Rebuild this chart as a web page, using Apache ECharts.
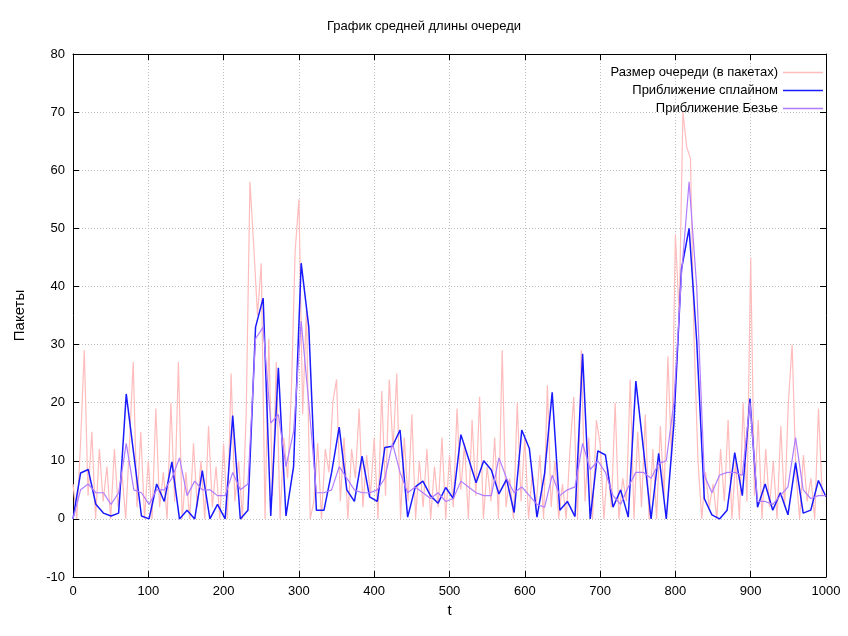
<!DOCTYPE html>
<html>
<head>
<meta charset="utf-8">
<script src="https://cdn.jsdelivr.net/npm/echarts@6/dist/echarts.min.js"></script>
<style>html,body{margin:0;padding:0;background:#fff}#main{width:848px;height:636px}</style>
</head>
<body>
<div id="main"></div>
<script>
// raw queue size, one value every 5 time units
var rawStep = 5;
var rawValues = [
  6,0,13,29,4,15,0,12,3,9,
  0,12,2,8,0,13,27,2,15,0,
  10,0,19,2,8,0,20,3,27,0,
  8,0,13,2,10,0,16,2,9,0,
  13,0,25,3,10,0,18,58,47,35,
  44,0,31,4,27,0,14,7,22,46,
  55,18,36,0,3,13,0,12,8,20,
  24,3,14,0,12,7,19,2,11,4,
  14,0,22,4,24,12,25,0,14,3,
  18,0,10,2,12,0,9,2,14,0,
  11,2,19,5,13,0,17,4,21,0,
  9,3,14,0,29,2,7,0,20,3,
  14,0,8,2,11,0,23,2,10,0,
  6,0,12,21,0,29,3,14,0,17,
  13,0,9,2,20,0,7,3,24,0,
  15,2,18,0,12,0,16,4,28,10,
  49,35,70,64,62,30,10,0,8,2,
  6,0,12,3,17,0,10,0,20,3,
  45,4,17,0,12,2,10,0,16,2,
  20,30,8,0,11,3,7,0,19,4
];

// approximations, 100 nodes evenly spread over 0..1000
var splineValues = [
  0,7.9,8.5,2.5,1,0.5,1,21.5,11,0.5,
  0,6,3,9.8,0,1.5,0,8.3,0,2.5,
  0,17.8,0,1.5,33,38,0.5,26,0.5,9,
  44,33,1.5,1.5,8,15.8,5,3,10.8,3.8,
  3,12.3,12.5,15.3,0.3,5.5,6.5,4,2.7,5.4,
  3.5,14.5,10.4,6.2,10,8.4,4.3,6.8,1.1,15.3,
  12.1,0.3,7.8,21.8,1.5,3,0.4,28.4,0,11.7,
  11,2,5,0.3,23.7,12,0,11.3,0,16.4,
  43,50,30.7,3.5,0.7,0,1.5,11.4,4,20.7,
  2,6,1.5,4.5,0.7,9.7,1,1.5,6.6,3.8
];
var bezierValues = [
  0,5,6,4.5,4.5,2.5,4.5,13,5,4.5,
  2.5,5,5,7,10.5,4,6.5,5,5,4,
  4,8,5,6,31,33,16.5,18,9,15,
  34,20,4.5,4.5,5,9,7,5,4.5,4.5,
  5,7,13,8,4.5,5.5,4.5,3.5,4.5,3,
  3.5,6.5,5.5,4.5,4,4,10.5,7,4.5,5.5,
  4,2.5,2,7.5,4,5,5.5,13,8.5,10,
  8,4,2.5,5.5,8,8,7,9.5,10,20,
  42,58,40,7.5,4.5,7.5,8,8,7.5,20,
  3,3,2.5,4,5.5,14,5,3.5,4,4
];

var xMax = 1000;
function rawPairs() {
  return rawValues.map(function (v, i) { return [i * rawStep, v]; });
}
function nodePairs(vals) {
  return vals.map(function (v, i) { return [i * xMax / (vals.length - 1), v]; });
}

var axisLine = { onZero: false, lineStyle: { color: '#000', width: 1 } };
var labelStyle = { color: '#000', fontSize: 13, fontFamily: 'Liberation Sans', formatter: function (v) { return String(v); } };
var gridLine = { show: true, lineStyle: { color: '#c0c0c0', type: [1, 2], width: 1 } };
var tick = { inside: true, length: 6, lineStyle: { color: '#000' } };

var myChart = echarts.init(document.getElementById('main'));
var option = {
  backgroundColor: '#fff',
  animation: false,
  title: {
    text: 'График средней длины очереди',
    left: 'center',
    top: 15,
    textStyle: { color: '#000', fontSize: 13, fontWeight: 'normal', fontFamily: 'Liberation Sans' }
  },
  legend: {
    orient: 'vertical',
    right: 20,
    top: 61,
    align: 'right',
    itemGap: 5,
    itemWidth: 40,
    itemHeight: 1.5,
    icon: 'rect',
    textStyle: { color: '#000', fontSize: 13, fontFamily: 'Liberation Sans' },
    data: ['Размер очереди (в пакетах)', 'Приближение сплайном', 'Приближение Безье']
  },
  grid: { left: 73, right: 22, top: 54, bottom: 59, containLabel: false },
  xAxis: [{
    type: 'value', min: 0, max: 1000, interval: 100,
    name: 't', nameLocation: 'middle', nameGap: 26,
    nameTextStyle: { color: '#000', fontSize: 15, fontFamily: 'Liberation Sans' },
    axisLine: axisLine, axisTick: tick,
    axisLabel: labelStyle, splitLine: gridLine
  }, {
    type: 'value', min: 0, max: 1000, interval: 100, position: 'top',
    axisLine: axisLine, axisTick: tick,
    axisLabel: { show: false }, splitLine: { show: false }
  }],
  yAxis: [{
    type: 'value', min: -10, max: 80, interval: 10,
    name: 'Пакеты', nameLocation: 'middle', nameGap: 46, nameRotate: 90,
    nameTextStyle: { color: '#000', fontSize: 15, fontFamily: 'Liberation Sans' },
    axisLine: axisLine, axisTick: tick,
    axisLabel: labelStyle, splitLine: gridLine
  }, {
    type: 'value', min: -10, max: 80, interval: 10, position: 'right',
    axisLine: axisLine, axisTick: tick,
    axisLabel: { show: false }, splitLine: { show: false }
  }],
  series: [{
    name: 'Размер очереди (в пакетах)', type: 'line', showSymbol: false,
    data: rawPairs(), color: '#ffbcbc',
    lineStyle: { color: '#ffbcbc', width: 1.2 }
  }, {
    name: 'Приближение сплайном', type: 'line', showSymbol: false,
    data: nodePairs(splineValues), color: '#1a1aff',
    lineStyle: { color: '#1a1aff', width: 1.5 }
  }, {
    name: 'Приближение Безье', type: 'line', showSymbol: false,
    data: nodePairs(bezierValues), color: '#b07cff',
    lineStyle: { color: '#b07cff', width: 1.2 }
  }]
};
myChart.setOption(option);
</script>
</body>
</html>
